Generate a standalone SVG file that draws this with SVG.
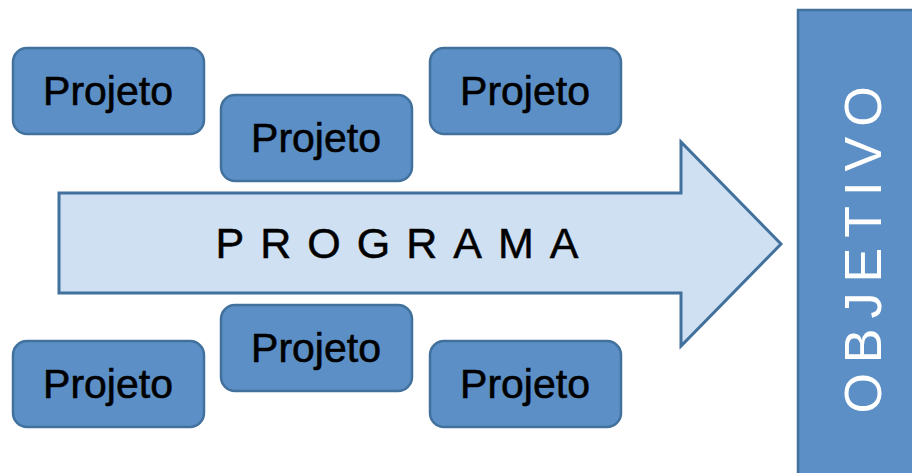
<svg xmlns="http://www.w3.org/2000/svg" width="912" height="473" viewBox="0 0 912 473">
<style>
.box{fill:#5b8fc6;stroke:#41719c;stroke-width:2.5}
.lbl{font-family:"Liberation Sans",Arial,sans-serif;font-size:41px;fill:#000;stroke:#000;stroke-width:0.6;text-anchor:middle}
</style>
<rect width="912" height="473" fill="#fff"/>
<g id="objetivo">
<rect class="box" x="798" y="10" width="130" height="480"/>
<text transform="translate(881,245) rotate(-90)" font-family="Liberation Sans,Arial,sans-serif" font-size="52" fill="#fff" text-anchor="middle" letter-spacing="10">OBJETIVO</text>
</g>
<g id="programa">
<polygon points="59,193 681,193 681,142 781,244 681,346 681,293 59,293" fill="#cfe0f2" stroke="#41719c" stroke-width="3"/>
<text x="405" y="258" font-family="Liberation Sans,Arial,sans-serif" font-size="43" fill="#000" stroke="#000" stroke-width="0.5" text-anchor="middle" letter-spacing="16">PROGRAMA</text>
</g>
<g id="p1"><rect class="box" x="13" y="48" width="191" height="86" rx="14"/><text class="lbl" x="108" y="105">Projeto</text></g>
<g id="p2"><rect class="box" x="221" y="95" width="191" height="86" rx="14"/><text class="lbl" x="316" y="152">Projeto</text></g>
<g id="p3"><rect class="box" x="430" y="48" width="191" height="86" rx="14"/><text class="lbl" x="525" y="105">Projeto</text></g>
<g id="p4"><rect class="box" x="13" y="341" width="191" height="86" rx="14"/><text class="lbl" x="108" y="398">Projeto</text></g>
<g id="p5"><rect class="box" x="221" y="305" width="191" height="86" rx="14"/><text class="lbl" x="316" y="362">Projeto</text></g>
<g id="p6"><rect class="box" x="430" y="341" width="191" height="86" rx="14"/><text class="lbl" x="525" y="398">Projeto</text></g>
<g id="connectors"/>
</svg>
